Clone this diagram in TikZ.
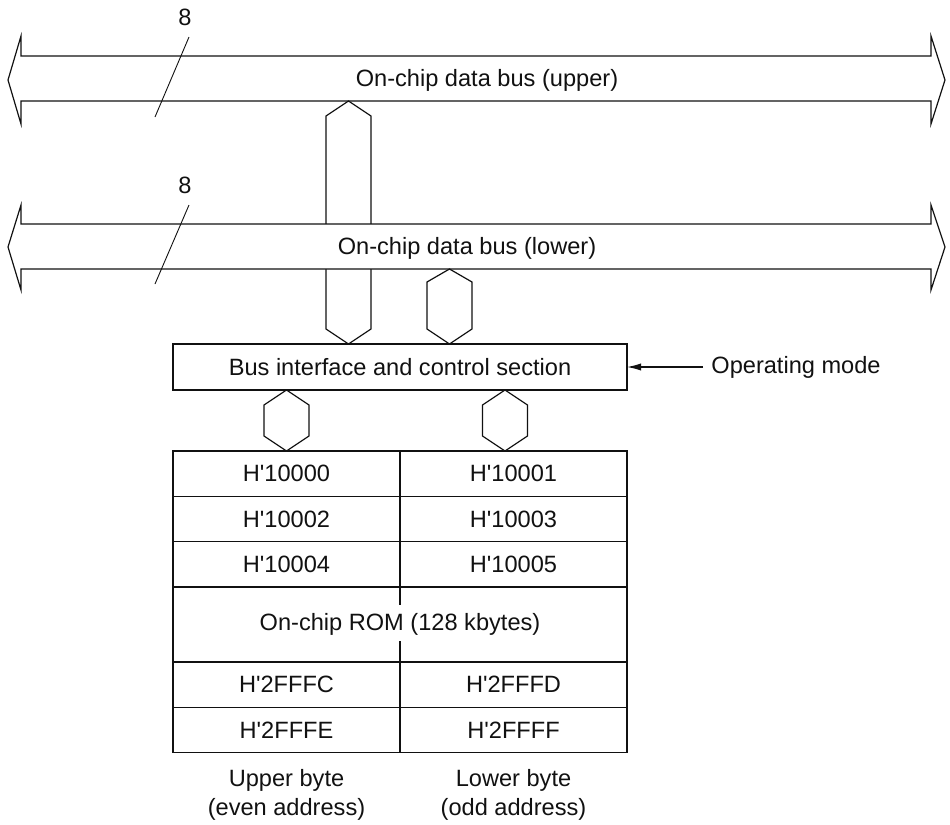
\documentclass[tikz,border=0pt]{standalone}
\usepackage{fontspec}
\setmainfont{Liberation Sans}
\usetikzlibrary{arrows.meta,positioning,calc}
\definecolor{ink}{HTML}{111111}
\tikzset{
  line/.style={draw=ink, line width=0.6pt},
  bus/.style={line, fill=white, line join=miter},
  hexlink/.style={line, fill=white, line join=miter},
  txt/.style={font=\fontsize{11.8}{14.7}\selectfont, text=ink, align=center},
  cell/.style={line, txt, minimum width=113.5pt, minimum height=22.65pt, inner sep=0pt, outer sep=0pt},
  bigcell/.style={cell, minimum width=227pt, minimum height=37.5pt},
  width/.style={txt, inner sep=0pt},
  slash/.style={draw=ink, line width=0.45pt},
  modearrow/.style={-{Latex[length=7pt,width=3.6pt]}, line}
}
\newcommand{\hq}{H\textquotesingle}
\begin{document}
\begin{tikzpicture}[x=0.5pt, y=-0.5pt]
\useasboundingbox (0,0) rectangle (950,825);
% upper bus
\draw[bus] (21,56) -- (931,56) -- (931,36) -- (945,80) -- (931,124) -- (931,101) -- (21,101) -- (21,124) -- (8,80) -- (21,36) -- cycle;
\node[txt] (upbus) at (487,80) {On-chip data bus (upper)};
% bus interface
\node[cell, minimum width=227pt, minimum height=23pt] (bic) at (400,367) {Bus interface and control section};
\coordinate (ua) at (348.5,101);
\coordinate (ub) at (bic.north -| ua);
\draw[hexlink] (ua) -- ++(22.5,15) -- ($(ub)+(22.5,-15)$) -- (ub) -- ($(ub)+(-22.5,-15)$) -- ($(ua)+(-22.5,15)$) -- cycle;
% lower bus
\draw[bus] (21,224) -- (931,224) -- (931,205) -- (945,247) -- (931,290) -- (931,269) -- (21,269) -- (21,290) -- (8,247) -- (21,205) -- cycle;
\node[txt] (lowbus) at (467,248) {On-chip data bus (lower)};
\coordinate (la) at (449.5,269);
\coordinate (lb) at (bic.north -| la);
\draw[hexlink] (la) -- ++(22.5,13) -- ($(lb)+(22.5,-15)$) -- (lb) -- ($(lb)+(-22.5,-15)$) -- ($(la)+(-22.5,13)$) -- cycle;
% bus widths
\node[width] (w1) at (185,17) {8};
\draw[slash] (189,37) -- (155,117);
\node[width] (w2) at (185,185) {8};
\draw[slash] (189,205) -- (155,284);
% rom
\node[cell, anchor=north west] (a0) at (173,451) {\hq10000};
\node[cell, right=0pt of a0] (b0) {\hq10001};
\node[cell, below=0pt of a0] (a1) {\hq10002};
\node[cell, right=0pt of a1] (b1) {\hq10003};
\node[cell, below=0pt of a1] (a2) {\hq10004};
\node[cell, right=0pt of a2] (b2) {\hq10005};
\node[bigcell, below=0pt of a2.south east] (rom) {On-chip ROM (128 kbytes)};
\draw[line] (rom.north) -- ++(0,18);
\draw[line] (rom.south) -- ++(0,-21);
\node[cell, below=0pt of rom.south west, anchor=north west] (a3) {\hq2FFFC};
\node[cell, right=0pt of a3] (b3) {\hq2FFFD};
\node[cell, below=0pt of a3] (a4) {\hq2FFFE};
\node[cell, right=0pt of a4] (b4) {\hq2FFFF};
% links to rom
\coordinate (ea) at (bic.south -| a0);
\draw[hexlink] (ea) -- ++(22.5,15) -- ($(a0.north)+(22.5,-15)$) -- (a0.north) -- ($(a0.north)+(-22.5,-15)$) -- ($(ea)+(-22.5,15)$) -- cycle;
\coordinate (oa) at ($(bic.south -| b0)+(-8.5,0)$);
\coordinate (ob) at (a0.north -| oa);
\draw[hexlink] (oa) -- ++(22.5,15) -- ($(ob)+(22.5,-15)$) -- (ob) -- ($(ob)+(-22.5,-15)$) -- ($(oa)+(-22.5,15)$) -- cycle;
% mode input
\node[txt, anchor=west, inner sep=4pt] (mode) at (703,367) {Operating mode};
\draw[modearrow] (mode.west) -- (bic.east);
% byte labels
\node[txt] (evenlbl) at (286.5,795) {Upper byte\\(even address)};
\node[txt] (oddlbl) at (513.5,795) {Lower byte\\(odd address)};
\end{tikzpicture}
\end{document}
